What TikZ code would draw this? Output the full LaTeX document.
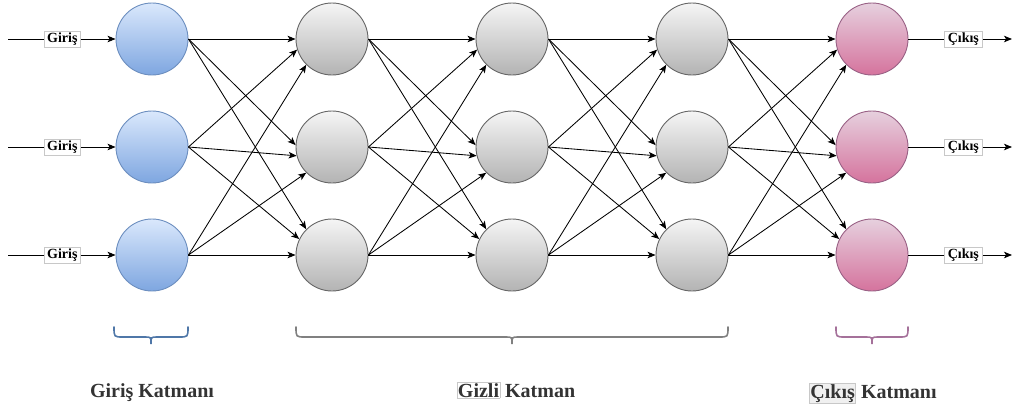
\documentclass[tikz,border=0pt]{standalone}
\usepackage{fontspec}
\setmainfont{Liberation Serif}
\usetikzlibrary{arrows.meta}

\definecolor{inFillTop}{HTML}{DAE8FC}
\definecolor{inFillBot}{HTML}{7EA6E0}
\definecolor{inLine}{HTML}{6C8EBF}
\definecolor{hidFillTop}{HTML}{F5F5F5}
\definecolor{hidFillBot}{HTML}{B3B3B3}
\definecolor{hidLine}{HTML}{666666}
\definecolor{outFillTop}{HTML}{E6D0DE}
\definecolor{outFillBot}{HTML}{D5739D}
\definecolor{outLine}{HTML}{996185}
\definecolor{braceBlue}{HTML}{4F77A8}
\definecolor{braceGray}{HTML}{808080}
\definecolor{bracePink}{HTML}{A5719A}
\definecolor{labelText}{HTML}{333333}
\definecolor{tagLine}{HTML}{C8C8C8}
\definecolor{tagFill}{HTML}{F0F0F0}

% a word set inside a thin framed box
\newcommand{\tagword}[2]{{\setlength{\fboxsep}{0.5pt}\setlength{\fboxrule}{0.6pt}\fcolorbox{tagLine}{#1}{#2}}}

\tikzset{
  neuron/.style={circle, minimum size=72pt, inner sep=0pt, line width=0.9pt},
  inneuron/.style={neuron, draw=inLine, top color=inFillTop, bottom color=inFillBot},
  hidneuron/.style={neuron, draw=hidLine, top color=hidFillTop, bottom color=hidFillBot},
  outneuron/.style={neuron, draw=outLine, top color=outFillTop, bottom color=outFillBot},
  link/.style={line width=0.85pt, -{Stealth[length=8pt,width=6.5pt,inset=2pt]}},
  iotag/.style={draw=tagLine, fill=white, line width=0.6pt, font=\bfseries\fontsize{14}{16}\selectfont,
                inner xsep=3.2pt, inner ysep=1.5pt},
  layertitle/.style={font=\bfseries\fontsize{20}{22}\selectfont, text=labelText, anchor=base},
  brace/.style={line width=1.6pt, line cap=round}
}

\begin{document}
\begin{tikzpicture}[x=1pt,y=-1pt]
\useasboundingbox (0,0) rectangle (1013,410);

% neurons: layer 1 input, layers 2-4 hidden, layer 5 output
\foreach \r/\y in {1/39,2/147,3/255}{
  \node[inneuron]  (n1\r) at (152,\y) {};
  \node[hidneuron] (n2\r) at (332,\y) {};
  \node[hidneuron] (n3\r) at (512,\y) {};
  \node[hidneuron] (n4\r) at (692,\y) {};
  \node[outneuron] (n5\r) at (872,\y) {};
  \coordinate (in\r) at (8,\y);
  \coordinate (out\r) at (1012,\y);
}

% fully connected links between consecutive layers
\foreach \a/\b in {1/2,2/3,3/4,4/5}{
  \foreach \i/\j/\ang in {1/1/180,1/2/177,1/3/135,
                          2/1/197,2/2/194,2/3/154,
                          3/1/225,3/2/225,3/3/180}{
    \draw[link] (n\a\i.east) -- (n\b\j.\ang);
  }
}

% inputs and outputs
\foreach \r in {1,2,3}{
  \draw[link] (in\r) -- node[iotag, pos=0.505] {Giriş} (n1\r.west);
  \draw[link] (n5\r.east) -- node[iotag, pos=0.53] {Çıkış} (out\r);
}

% braces under the layers
\foreach \xa/\xb/\col [count=\k] in {114/188/braceBlue, 296/728/braceGray, 836/908/bracePink}{
  \pgfmathsetmacro{\xm}{(\xa+\xb)/2}
  \coordinate (bl\k) at (\xa,327);
  \coordinate (br\k) at (\xb,327);
  \coordinate (bt\k) at (\xm,344);
  \draw[brace, draw=\col]
    (bl\k) .. controls (\xa,337) .. (\xa+9,337) -- (\xm-6,337)
    .. controls (\xm,337) .. (bt\k)
    .. controls (\xm,337) .. (\xm+6,337) -- (\xb-9,337)
    .. controls (\xb,337) .. (br\k);
}

% layer titles
\node[layertitle] (t1) at (152,397) {Giriş Katmanı};
\node[layertitle] (t2) at (516,397) {\tagword{white}{Gizli} Katman};
\node[layertitle] (t3) at (873,398) {\tagword{tagFill}{Çıkış} Katmanı};
\end{tikzpicture}
\end{document}
